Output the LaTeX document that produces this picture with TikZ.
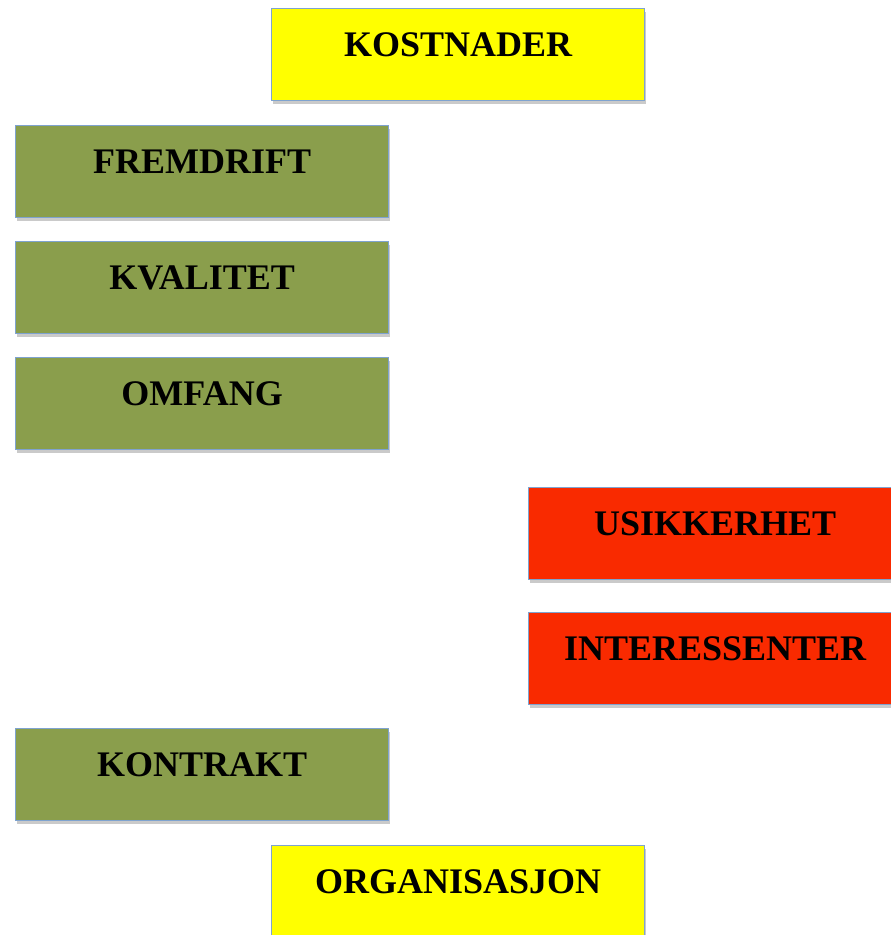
\documentclass[tikz,border=0pt]{standalone}
\usepackage{fontspec}
\setmainfont{Liberation Serif}
\usetikzlibrary{shadows}
\definecolor{boxyellow}{HTML}{FFFF00}
\definecolor{boxgreen}{HTML}{8A9E4C}
\definecolor{boxred}{HTML}{F92A00}
\definecolor{boxedge}{HTML}{7FA3CF}
\tikzset{
  card/.style={draw=boxedge, line width=1.2pt, anchor=north west,
    minimum width=373pt, inner sep=0pt, text height=48pt, text depth=44pt,
    font=\fontsize{36}{40}\selectfont\bfseries,
    drop shadow={shadow xshift=1pt, shadow yshift=-3pt, opacity=0.35, fill=black!60}},
  ycard/.style={card, fill=boxyellow},
  gcard/.style={card, fill=boxgreen},
  rcard/.style={card, fill=boxred}
}
\begin{document}
\begin{tikzpicture}[x=1pt,y=-1pt]
\clip (0,0) rectangle (891,935);
\useasboundingbox (0,0) rectangle (891,935);
\node[ycard] (kost) at (271,8) {KOSTNADER};
\node[gcard] (frem) at (15,125) {FREMDRIFT};
\node[gcard] (kval) at (15,241) {KVALITET};
\node[gcard] (omf) at (15,357) {OMFANG};
\node[rcard] (usik) at (528,487) {USIKKERHET};
\node[rcard] (inter) at (528,612) {INTERESSENTER};
\node[gcard] (kontr) at (15,728) {KONTRAKT};
\node[ycard] (org) at (271,845) {ORGANISASJON};
\end{tikzpicture}
\end{document}
